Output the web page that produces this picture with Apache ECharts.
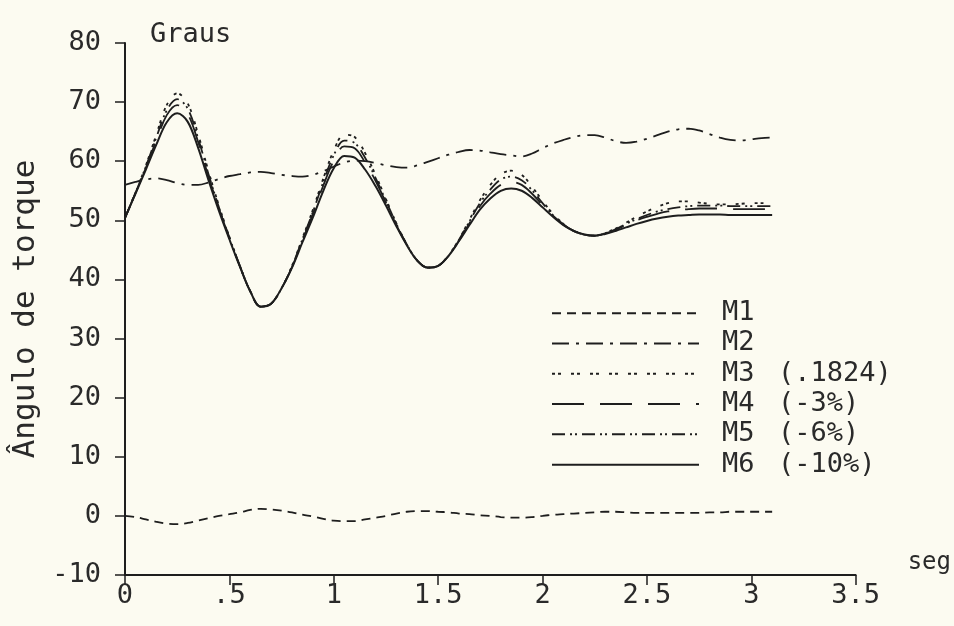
<!DOCTYPE html>
<html>
<head>
<meta charset="utf-8">
<title>Ângulo de torque</title>
<script src="https://cdn.jsdelivr.net/npm/echarts@6/dist/echarts.min.js"></script>
<style>
  html, body { margin: 0; padding: 0; background: #fcfbf1; }
  #chart { width: 954px; height: 626px; }
</style>
</head>
<body>
<div id="chart"></div>
<script>
// Time axis (seg), sampled every 0.05 s
const tempo = [
  0.00, 0.05, 0.10, 0.15, 0.20, 0.25, 0.30, 0.35, 0.40, 0.45,
  0.50, 0.55, 0.60, 0.65, 0.70, 0.75, 0.80, 0.85, 0.90, 0.95,
  1.00, 1.05, 1.10, 1.15, 1.20, 1.25, 1.30, 1.35, 1.40, 1.45,
  1.50, 1.55, 1.60, 1.65, 1.70, 1.75, 1.80, 1.85, 1.90, 1.95,
  2.00, 2.05, 2.10, 2.15, 2.20, 2.25, 2.30, 2.35, 2.40, 2.45,
  2.50, 2.55, 2.60, 2.65, 2.70, 2.75, 2.80, 2.85, 2.90, 2.95,
  3.00, 3.05, 3.10
];

// Torque angle (graus) for each model
const m1 = [
  0.0, -0.2, -0.6, -1.0, -1.3, -1.4, -1.2, -0.8, -0.4, 0.0,
  0.3, 0.6, 1.0, 1.2, 1.1, 0.9, 0.6, 0.2, -0.1, -0.5,
  -0.8, -0.9, -0.9, -0.6, -0.3, 0.0, 0.4, 0.7, 0.8, 0.8,
  0.7, 0.6, 0.4, 0.3, 0.1, 0.0, -0.2, -0.3, -0.3, -0.2,
  0.0, 0.2, 0.3, 0.4, 0.5, 0.6, 0.7, 0.7, 0.6, 0.5,
  0.5, 0.5, 0.5, 0.5, 0.5, 0.5, 0.6, 0.6, 0.7, 0.7,
  0.7, 0.7, 0.7
];
const m2 = [
  56.0, 56.5, 56.9, 57.1, 56.8, 56.3, 56.0, 56.0, 56.4, 57.0,
  57.5, 57.8, 58.1, 58.2, 58.0, 57.7, 57.5, 57.4, 57.7, 58.3,
  59.1, 59.8, 60.1, 60.0, 59.7, 59.3, 59.0, 58.9, 59.3, 59.9,
  60.5, 61.1, 61.6, 61.9, 61.8, 61.5, 61.2, 61.0, 60.8, 61.3,
  62.2, 63.0, 63.6, 64.1, 64.4, 64.4, 64.0, 63.4, 63.1, 63.3,
  63.8, 64.4, 65.0, 65.4, 65.5, 65.2, 64.6, 64.0, 63.6, 63.5,
  63.7, 63.9, 64.0
];
const m3 = [
  50.4, 54.7, 59.3, 64.5, 69.5, 71.5, 69.8, 64.6, 58.3, 52.5,
  47.2, 42.3, 38.0, 35.4, 35.9, 38.5, 42.3, 47.0, 51.8, 57.1,
  61.8, 64.5, 64.1, 61.4, 57.7, 53.6, 49.5, 45.9, 43.2, 42.0,
  42.3, 44.1, 46.8, 50.1, 53.4, 56.0, 57.8, 58.4, 57.7, 55.7,
  53.3, 51.1, 49.4, 48.2, 47.6, 47.4, 47.9, 48.6, 49.6, 50.6,
  51.5, 52.3, 52.9, 53.2, 53.2, 53.0, 52.8, 52.7, 52.7, 52.8,
  52.9, 52.9, 52.8
];
const m4 = [
  50.4, 54.6, 58.9, 63.5, 67.8, 69.5, 68.0, 63.3, 57.4, 52.0,
  47.0, 42.3, 38.0, 35.4, 35.9, 38.5, 42.1, 46.6, 51.1, 55.9,
  60.1, 62.5, 62.2, 59.8, 56.7, 53.0, 49.2, 45.9, 43.2, 42.0,
  42.3, 44.0, 46.6, 49.5, 52.4, 54.5, 56.0, 56.5, 56.0, 54.5,
  52.6, 50.8, 49.3, 48.2, 47.6, 47.4, 47.8, 48.4, 49.2, 50.0,
  50.6, 51.1, 51.5, 51.7, 51.9, 52.0, 52.0, 52.0, 51.9, 51.9,
  51.9, 51.9, 51.9
];
const m5 = [
  50.4, 54.6, 59.1, 64.0, 68.6, 70.5, 68.9, 63.9, 57.8, 52.2,
  47.1, 42.3, 38.0, 35.4, 35.9, 38.5, 42.2, 46.8, 51.4, 56.5,
  61.0, 63.5, 63.1, 60.6, 57.2, 53.3, 49.4, 45.9, 43.2, 42.0,
  42.3, 44.0, 46.7, 49.8, 52.9, 55.2, 56.9, 57.4, 56.8, 55.1,
  52.9, 50.9, 49.3, 48.2, 47.6, 47.4, 47.8, 48.5, 49.4, 50.2,
  50.9, 51.5, 51.9, 52.2, 52.4, 52.5, 52.5, 52.5, 52.4, 52.4,
  52.4, 52.4, 52.4
];
const m6 = [
  50.4, 54.5, 58.6, 62.8, 66.6, 68.1, 66.7, 62.3, 56.8, 51.6,
  46.8, 42.2, 38.0, 35.4, 35.9, 38.5, 42.0, 46.3, 50.5, 55.0,
  58.8, 60.9, 60.6, 58.6, 55.8, 52.5, 49.0, 45.8, 43.2, 42.0,
  42.3, 44.0, 46.5, 49.2, 51.8, 53.7, 55.0, 55.4, 55.0, 53.8,
  52.2, 50.6, 49.2, 48.2, 47.6, 47.4, 47.7, 48.2, 48.8, 49.4,
  49.9, 50.3, 50.6, 50.8, 50.9, 51.0, 51.0, 51.0, 50.9, 50.9,
  50.9, 50.9, 50.9
];

// Legend entries: model name and its parameter note
const modelos = ['M1', 'M2', 'M3', 'M4', 'M5', 'M6'];
const notas = ['', '', '(.1824)', '(-3%)', '(-6%)', '(-10%)'];

// Tick labels
const xTicks = ['0', '.5', '1', '1.5', '2', '2.5', '3', '3.5'];
const yTicks = ['-10', '0', '10', '20', '30', '40', '50', '60', '70', '80'];

const ink = '#1e1e1e';
const textInk = '#2a2a2a';
const mono = '"DejaVu Sans Mono", "Liberation Mono", monospace';

// Dash patterns for each model's curve
const tracos = [
  [9, 6],
  [17, 7, 3, 7],
  [3, 3, 3, 10],
  [32, 16],
  [13, 5, 2, 3, 2, 5],
  'solid'
];
const dados = [m1, m2, m3, m4, m5, m6];

const series = modelos.map((nome, i) => ({
  name: nome,
  type: 'line',
  smooth: 0.35,
  symbol: 'none',
  silent: true,
  data: tempo.map((t, k) => [t, dados[i][k]]),
  lineStyle: { color: ink, width: i === 5 ? 2 : 1.8, type: tracos[i] },
  itemStyle: { color: ink },
  z: 10 - i
}));

const chart = echarts.init(document.getElementById('chart'), null, { renderer: 'canvas' });

chart.setOption({
  backgroundColor: '#fcfbf1',
  animation: false,
  textStyle: { fontFamily: mono, color: textInk },
  grid: { left: 125, right: 84, top: 43, bottom: 51, containLabel: false },
  title: {
    text: 'Graus',
    left: 145,
    top: 16,
    textStyle: { fontFamily: mono, fontSize: 27, fontWeight: 'normal', color: textInk }
  },
  legend: {
    orient: 'vertical',
    left: 546,
    top: 293,
    itemWidth: 147,
    itemHeight: 14,
    itemGap: 0,
    selectedMode: false,
    data: modelos,
    // only the line sample is shown, no marker on it
    itemStyle: { opacity: 0, borderWidth: 0 },
    formatter: (nome) => {
      const i = modelos.indexOf(nome);
      return '{m|' + nome + '}{p|' + notas[i] + '}';
    },
    textStyle: {
      fontFamily: mono,
      fontSize: 27,
      color: textInk,
      lineHeight: 30.3,
      rich: {
        m: { fontFamily: mono, fontSize: 27, color: textInk, width: 56, padding: [0, 0, 0, 18], lineHeight: 30.3 },
        p: { fontFamily: mono, fontSize: 27, color: textInk, lineHeight: 30.3 }
      }
    }
  },
  xAxis: {
    type: 'value',
    min: 0,
    max: 3.5,
    interval: 0.5,
    name: 'seg',
    nameLocation: 'end',
    nameGap: 52,
    nameTextStyle: { fontFamily: mono, fontSize: 24, color: textInk, verticalAlign: 'bottom', padding: [0, 0, 0, 0] },
    axisLine: { onZero: false, lineStyle: { color: ink, width: 2 } },
    axisTick: { inside: false, length: 10, lineStyle: { color: ink, width: 1.5 } },
    axisLabel: {
      fontFamily: mono, fontSize: 27, color: textInk, margin: 7,
      formatter: (v) => xTicks[Math.round(v / 0.5)]
    },
    splitLine: { show: false }
  },
  yAxis: {
    type: 'value',
    min: -10,
    max: 80,
    interval: 10,
    name: 'Ângulo de torque',
    nameLocation: 'middle',
    nameRotate: 90,
    nameGap: 80,
    nameTextStyle: { fontFamily: mono, fontSize: 31, color: textInk },
    axisLine: { show: true, lineStyle: { color: ink, width: 2 } },
    axisTick: { show: true, inside: false, length: 10, lineStyle: { color: ink, width: 1.5 } },
    axisLabel: {
      fontFamily: mono, fontSize: 27, color: textInk, margin: 24,
      formatter: (v) => yTicks[Math.round((v + 10) / 10)]
    },
    splitLine: { show: false }
  },
  series: series
});
</script>
</body>
</html>
